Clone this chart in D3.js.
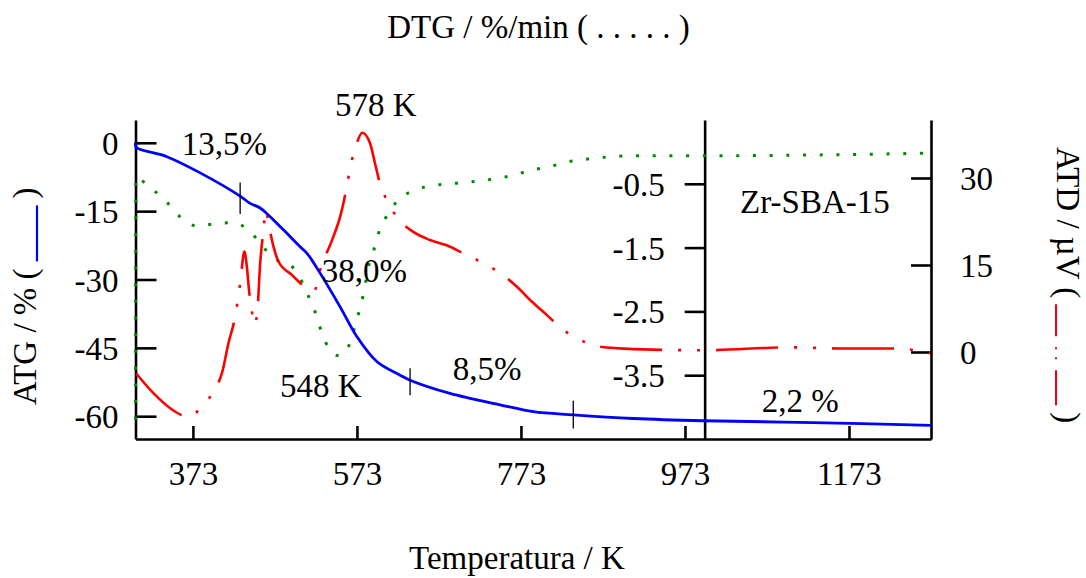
<!DOCTYPE html>
<html><head><meta charset="utf-8">
<script src="https://cdn.jsdelivr.net/npm/d3@7"></script>
<style>
body{margin:0;background:#fff}
svg{display:block}
text{font-family:"Liberation Serif","Times New Roman",serif;font-size:33px;fill:#000}
</style>
</head><body><svg id="c" width="1086" height="578"></svg>
<script>
// ---- tick labels ----
const xTicks=[373,573,773,973,1173];
const atgTicks=[0,-15,-30,-45,-60];
const dtgTicks=[-0.5,-1.5,-2.5,-3.5];
const atdTicks=[30,15,0];

// ---- ATG (%) solid blue ----
const atgK=[303,304,341.3,381.9,430.6,442.8,455,463.1,483.4,503.7,511.9,528.1,552.5,572.8,597.2,625.6,637.8,686.5,747.5,788.1,836.8,910,995.3,1129,1273];
const atgV=[0,-1.0,-3.05,-6.6,-11.7,-13.3,-14.3,-15.5,-19.1,-22.8,-24.2,-28.6,-36.0,-42.5,-48.0,-51.0,-52.1,-55.0,-57.5,-59.0,-59.7,-60.5,-61.0,-61.4,-62.0];

// ---- DTG (%/min) dotted green ----
const dtgK=[303,303.5,318.8,337.1,356.6,377.8,398.1,418.4,438.8,455,471.2,491.5,505.8,515.9,524.1,530.2,540.3,549,558.6,566.7,572.8,578.9,583,587,593.1,599.2,608.6,623.5,643.9,664.2,684.5,704.8,725.2,747.5,767.8,788.1,808.4,828.8,849,869.4,910,995.3,1273];
const dtgV=[-4.2,-0.39,-0.545,-0.73,-1.01,-1.16,-1.13,-1.11,-1.20,-1.43,-1.67,-1.77,-2.03,-2.32,-2.58,-2.84,-3.10,-3.19,-3.15,-2.90,-2.63,-2.35,-2.09,-1.80,-1.56,-1.28,-1.02,-0.75,-0.60,-0.53,-0.50,-0.48,-0.45,-0.41,-0.35,-0.28,-0.23,-0.16,-0.12,-0.09,-0.06,-0.06,-0.02];

// ---- ATD (µV) dash-dot red ----
const atdK=[303.9,324.9,345.3,361.5,367.6,383.9,400.1,408.3,416.3,424.5,430.6,435.8,438.8,441.6,444.9,446.8,451.0,455,459,461.9,465.1,471.2,477.3,493.6,511.9,520.8,528.1,544.3,552.5,560.6,564.7,572.8,579.5,589.0,595.1,600.4,607.3,621.6,641.8,662.2,682.5,702.8,723.1,747.5,767.8,786.1,804.4,824.6,845,869.4,910,995.3,1100.9,1170,1231,1271.6];
const atdV=[-3.7,-7.1,-9.7,-11.0,-11.2,-9.4,-6.3,-3.7,1.5,6.1,11.8,17.3,14.7,10.4,7.2,4.7,6.1,15.3,21.0,24.5,22.2,18.2,15.6,13.3,11.0,10.5,14.1,19.9,23.3,28.5,31.7,36.0,37.8,36.0,32.5,29.4,26.8,23.3,20.7,19.3,18.4,17.0,15.6,13.6,11.3,8.7,6.4,3.8,2.1,0.9,0.5,0.3,0.8,0.6,0.6,-0.2];

// ---- step markers on ATG curve ----
const markK=[430.6,637.8,836.8];
const markLo=[-15.6,-55.4,-62.7];
const markHi=[-8.7,-49.5,-56.6];

// ---- annotations ----
const annText=["13,5%","578 K","38,0%","548 K","8,5%","2,2 %","Zr-SBA-15"];
const annK=[359.3,546.3,530,479.2,689.8,1066.7,1040.2];
const annV=[-2.7,5.8,-30.5,-55.8,-52.05,-59.0,-15.5];

const svg=d3.select("#c");
const x=d3.scaleLinear().domain([303,1273]).range([135.5,931]);
const yA=d3.scaleLinear().domain([-65,5]).range([439,120]);
const yD=d3.scaleLinear().domain([-4.5,0.5]).range([439,120]);
const yT=d3.scaleLinear().domain([-15,40]).range([439,120]);
const fmt=d=>String(d);

function style(g,dy){
  g.attr("font-size",null).attr("font-family",null);
  g.select(".domain").attr("stroke-width",2.6);
  g.selectAll(".tick line").attr("stroke-width",2.6);
  g.selectAll(".tick text").style("font-size","33px");
  if(dy) g.selectAll(".tick text").attr("dy",dy);
}
style(svg.append("g").attr("transform","translate(0,439)")
  .call(d3.axisBottom(x).tickValues(xTicks).tickSizeInner(-13).tickSizeOuter(0).tickPadding(23).tickFormat(fmt)));
style(svg.append("g").attr("transform","translate(135.5,0)")
  .call(d3.axisLeft(yA).tickValues(atgTicks).tickSizeInner(-21).tickSizeOuter(0).tickPadding(17).tickFormat(fmt)),"0.35em");
style(svg.append("g").attr("transform",`translate(${x(997)},0)`)
  .call(d3.axisLeft(yD).tickValues(dtgTicks).tickSizeInner(20).tickSizeOuter(0).tickPadding(20).tickFormat(fmt)),"0.35em");
style(svg.append("g").attr("transform","translate(931,0)")
  .call(d3.axisRight(yT).tickValues(atdTicks).tickSizeInner(-20).tickSizeOuter(0).tickPadding(29).tickFormat(fmt)),"0.35em");

// curves
const lineOf=(ys,c)=>d3.line().x(d=>x(d[0])).y(d=>ys(d[1])).curve(c||d3.curveMonotoneX);
svg.append("path").datum(d3.zip(dtgK,dtgV)).attr("d",lineOf(yD))
  .attr("fill","none").attr("stroke","#008a00").attr("stroke-width",3).attr("stroke-dasharray","3,13.7");
svg.append("path").datum(d3.zip(atdK,atdV)).attr("d",lineOf(yT))
  .attr("fill","none").attr("stroke","#ff0000").attr("stroke-width",2.6).attr("stroke-dasharray","62,16,3,16,3,16");
svg.append("path").datum(d3.zip(atgK,atgV)).attr("d",lineOf(yA,d3.curveCatmullRom.alpha(0.5)))
  .attr("fill","none").attr("stroke","#0000ff").attr("stroke-width",2.8);

// markers
svg.append("g").selectAll("line").data(d3.range(markK.length)).join("line")
  .attr("x1",i=>x(markK[i])).attr("x2",i=>x(markK[i]))
  .attr("y1",i=>yA(markHi[i])).attr("y2",i=>yA(markLo[i]))
  .attr("stroke","#000").attr("stroke-width",1.3);

// annotations
svg.append("g").selectAll("text").data(d3.range(annText.length)).join("text")
  .attr("x",i=>x(annK[i])).attr("y",i=>yA(annV[i])).text(i=>annText[i]);

// titles
svg.append("text").attr("x",538.5).attr("y",38).attr("text-anchor","middle").text("DTG / %/min ( . . . . . )");
svg.append("text").attr("x",517).attr("y",569).attr("text-anchor","middle").text("Temperatura / K");

// left rotated label with legend line
(function(){
  const g=svg.append("g").attr("transform","translate(36,405) rotate(-90)");
  const t=g.append("text").attr("x",0).attr("y",0).text("ATG / % (");
  const L=t.node().getComputedTextLength();
  const s=L+7, len=56;
  g.append("line").attr("x1",s).attr("x2",s+len).attr("y1",1).attr("y2",1).attr("stroke","#0000ff").attr("stroke-width",2.2);
  g.append("text").attr("x",s+len+7).attr("y",0).text(")");
})();
// right rotated label with legend line
(function(){
  const g=svg.append("g").attr("transform","translate(1057,147) rotate(90)");
  const t=g.append("text").attr("x",0).attr("y",0).text("ATD / µV (");
  const L=t.node().getComputedTextLength();
  const s=L+6, len=101;
  g.append("line").attr("x1",s).attr("x2",s+len).attr("y1",1).attr("y2",1).attr("stroke","#ff0000").attr("stroke-width",2)
    .attr("stroke-dasharray","32,11,2,8,2,11,40");
  g.append("text").attr("x",s+len+7).attr("y",0).text(")");
})();
</script>
</body></html>
